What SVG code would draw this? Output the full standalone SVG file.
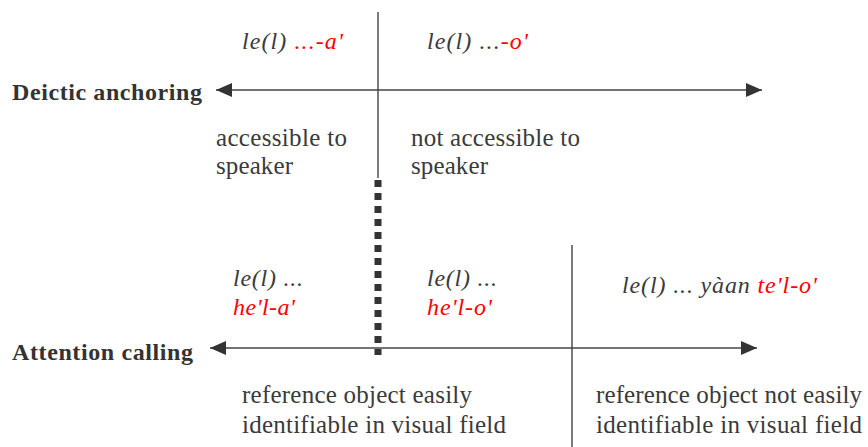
<svg xmlns="http://www.w3.org/2000/svg" width="868" height="447" viewBox="0 0 868 447">
<defs>
<marker id="ah" viewBox="0 0 16 14" refX="16" refY="7" markerWidth="16" markerHeight="14" markerUnits="userSpaceOnUse" orient="auto-start-reverse">
<path d="M0,0 L16,7 L0,14 Z" fill="#333"/>
</marker>
<style>
.t{font-family:"Liberation Serif","Times New Roman",serif;font-size:25px;fill:#3a3a3a}
.i{font-family:"Liberation Serif","Times New Roman",serif;font-size:24px;font-style:italic;fill:#3a3a3a}
.b{font-family:"Liberation Serif","Times New Roman",serif;font-size:24px;font-weight:bold;fill:#333}
.r{fill:#ff0000}
.ln{stroke:#444;stroke-width:1.4;fill:none}
</style>
</defs>
<rect width="868" height="447" fill="#fff"/>
<g id="connectors">
<line class="ln" x1="216" y1="90" x2="762" y2="90" marker-start="url(#ah)" marker-end="url(#ah)"/>
<line class="ln" x1="378" y1="12" x2="378" y2="178"/>
<line x1="378" y1="180" x2="378" y2="355" stroke="#333" stroke-width="7" stroke-dasharray="7,6"/>
<line class="ln" x1="210" y1="348" x2="757" y2="348" marker-start="url(#ah)" marker-end="url(#ah)"/>
<line class="ln" x1="572" y1="245" x2="572" y2="447"/>
</g>
<g id="deictic-axis">
<text class="b" x="12" y="100" textLength="190" lengthAdjust="spacing">Deictic anchoring</text>
</g>
<g id="deictic-a">
<text class="i" x="242" y="49" textLength="101" lengthAdjust="spacing">le(l) <tspan class="r">...-a'</tspan></text>
</g>
<g id="deictic-o">
<text class="i" x="427" y="49" textLength="101" lengthAdjust="spacing">le(l) ...<tspan class="r">-o'</tspan></text>
</g>
<g id="accessible">
<text class="t" x="216" y="146" textLength="131" lengthAdjust="spacing">accessible to</text>
<text class="t" x="216" y="174" textLength="77" lengthAdjust="spacing">speaker</text>
</g>
<g id="not-accessible">
<text class="t" x="411" y="146" textLength="169" lengthAdjust="spacing">not accessible to</text>
<text class="t" x="411" y="174" textLength="77" lengthAdjust="spacing">speaker</text>
</g>
<g id="attention-axis">
<text class="b" x="12" y="360" textLength="181" lengthAdjust="spacing">Attention calling</text>
</g>
<g id="attention-a">
<text class="i" x="233" y="286" textLength="70" lengthAdjust="spacing">le(l) ...</text>
<text class="i r" x="233" y="315" textLength="62" lengthAdjust="spacing">he'l-a'</text>
</g>
<g id="attention-o">
<text class="i" x="427" y="286" textLength="70" lengthAdjust="spacing">le(l) ...</text>
<text class="i r" x="427" y="315" textLength="65" lengthAdjust="spacing">he'l-o'</text>
</g>
<g id="attention-te">
<text class="i" x="622" y="293" textLength="195" lengthAdjust="spacing">le(l) ... yàan <tspan class="r">te'l-o'</tspan></text>
</g>
<g id="easily">
<text class="t" x="242" y="403" textLength="230" lengthAdjust="spacing">reference object easily</text>
<text class="t" x="242" y="433" textLength="264" lengthAdjust="spacing">identifiable in visual field</text>
</g>
<g id="not-easily">
<text class="t" x="596" y="403" textLength="266" lengthAdjust="spacing">reference object not easily</text>
<text class="t" x="596" y="433" textLength="266" lengthAdjust="spacing">identifiable in visual field</text>
</g>
</svg>
